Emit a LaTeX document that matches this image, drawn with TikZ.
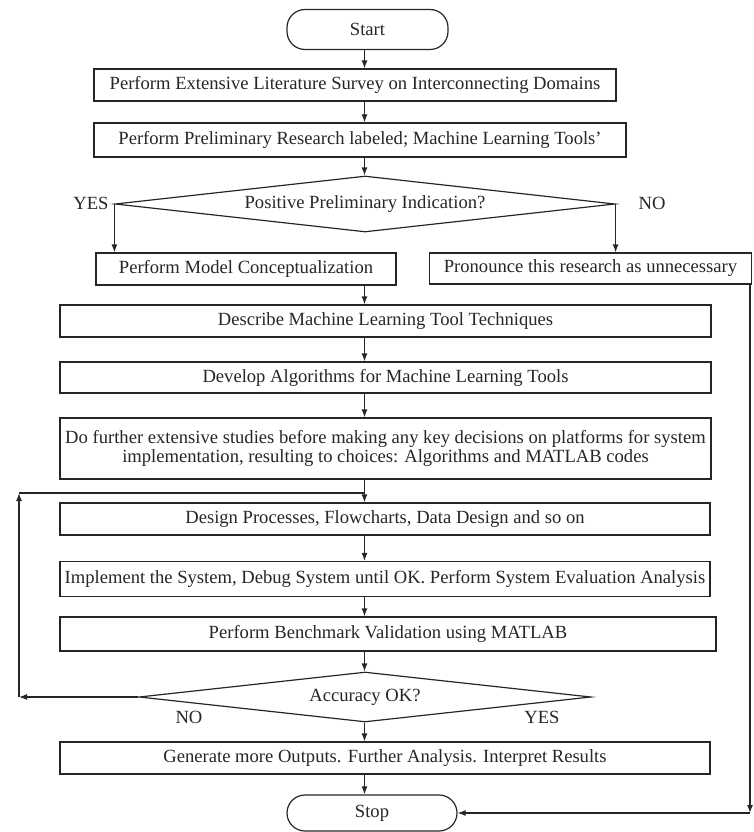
\documentclass[tikz,border=0pt]{standalone}
\usepackage{fontspec}
\setmainfont{Liberation Serif}
\usetikzlibrary{shapes.geometric,arrows.meta}
\begin{document}
\begin{tikzpicture}[x=1pt,y=-1pt,
  every node/.style={font=\fontsize{18.6}{19.5}\selectfont, inner sep=0pt, text=black!85},
  ln/.style={draw=black!85, line width=1.2pt},
  arr/.style={ln, -{Latex[length=8pt,width=6pt]}},
  procbox/.style={draw=black!85, line width=1.2pt, rectangle, align=center},
  termbox/.style={draw=black!85, line width=1.2pt, rectangle, rounded corners=18pt},
  decide/.style={draw=black!85, line width=1.2pt, diamond, aspect=9, align=center}
]
\useasboundingbox (0,0) rectangle (753,832);

% vertical spine of the main flow
\coordinate (sp) at (364.5,0);

% steps of the main flow
\node[termbox, minimum width=161pt, minimum height=40pt] (start) at (367.5,29.5) {Start};
\node[procbox, minimum width=522pt, minimum height=32pt] (survey) at (355,85)
  {Perform Extensive Literature Survey on Interconnecting Domains};
\node[procbox, minimum width=532pt, minimum height=34pt] (prelim) at (360,140)
  {Perform Preliminary Research labeled; Machine Learning Tools'};
\node[decide, minimum width=500pt, minimum height=56pt] (posind) at (365,204)
  {Positive Preliminary Indication?};
\node[procbox, minimum width=300pt, minimum height=32pt] (model) at (246,269)
  {Perform Model Conceptualization};
\node[procbox, minimum width=322pt, minimum height=31pt] (unneeded) at (590.5,268.5)
  {Pronounce this research as unnecessary};
\node[procbox, minimum width=651pt, minimum height=32pt] (describe) at (385.5,321)
  {Describe Machine Learning Tool Techniques};
\node[procbox, minimum width=651pt, minimum height=31pt] (develop) at (385.5,377.5)
  {Develop Algorithms for Machine Learning Tools};
\node[procbox, minimum width=651pt, minimum height=61pt] (further) at (385.5,448.5)
  {Do further extensive studies before making any key decisions on platforms for system\\
   implementation, resulting to choices: Algorithms and MATLAB codes};
\node[procbox, minimum width=650pt, minimum height=32pt] (design) at (385,519)
  {Design Processes, Flowcharts, Data Design and so on};
\node[procbox, minimum width=650pt, minimum height=35pt] (implement) at (385,579)
  {Implement the System, Debug System until OK. Perform System Evaluation Analysis};
\node[procbox, minimum width=656pt, minimum height=34pt] (bench) at (388,634)
  {Perform Benchmark Validation using MATLAB};
\node[decide, minimum width=452pt, minimum height=50pt] (accuracy) at (365,697)
  {Accuracy OK?};
\node[procbox, minimum width=650pt, minimum height=32pt] (outputs) at (385,758)
  {Generate more Outputs. Further Analysis. Interpret Results};
\node[termbox, minimum width=170pt, minimum height=36pt] (stop) at (372,813) {Stop};

% branch labels
\node (yesA) at (91,203) {YES};
\node (noA) at (652,203) {NO};
\node (noB) at (189,717) {NO};
\node (yesB) at (542,717) {YES};

% corner points of the two return paths
\coordinate (lp1) at (19,697);
\coordinate (lp2) at (19,493);
\coordinate (rp) at (750,813);

% main flow connectors
\draw[arr] (start.south -| sp) -- (survey.north -| sp);
\draw[arr] (survey.south -| sp) -- (prelim.north -| sp);
\draw[arr] (prelim.south -| sp) -- (posind.north -| sp);
\draw[arr] (posind.west) -- (posind.west |- model.north);
\draw[arr] (posind.east) -- (posind.east |- unneeded.north);
\draw[arr] (model.south -| sp) -- (describe.north -| sp);
\draw[arr] (describe.south -| sp) -- (develop.north -| sp);
\draw[arr] (develop.south -| sp) -- (further.north -| sp);
\draw[arr] (further.south -| sp) -- (design.north -| sp);
\draw[arr] (design.south -| sp) -- (implement.north -| sp);
\draw[arr] (implement.south -| sp) -- (bench.north -| sp);
\draw[arr] (bench.south -| sp) -- (accuracy.north -| sp);
\draw[arr] (accuracy.south -| sp) -- (outputs.north -| sp);
\draw[arr] (outputs.south -| sp) -- (stop.north -| sp);

% loop back when accuracy is not OK
\draw[arr] (accuracy.west) -- (lp1);
\draw[arr] (lp1) -- (lp2);
\draw[ln] (lp2) -- (lp2 -| sp);

% path from the unnecessary branch to Stop
\draw[arr] (unneeded.south -| rp) -- (rp);
\draw[arr] (rp) -- (stop.east);
\end{tikzpicture}
\end{document}
